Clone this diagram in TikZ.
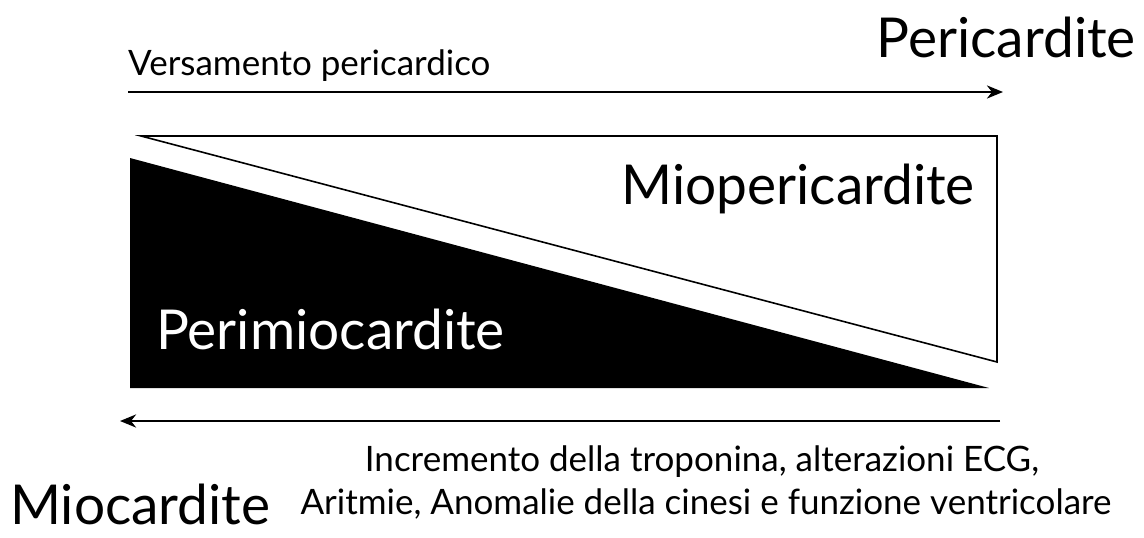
\documentclass[tikz,border=0pt]{standalone}
\usepackage{fontspec}
\setmainfont{Lato}
\usetikzlibrary{arrows.meta}

\tikzset{
  bigtext/.style={font=\fontsize{55}{58}\selectfont, inner sep=0pt},
  smalltext/.style={font=\fontsize{35}{38}\selectfont, inner sep=0pt},
  arrowline/.style={line width=2.6pt, -{Stealth[length=16pt,width=13pt,inset=5pt]}}
}

\begin{document}
\begin{tikzpicture}[x=1pt,y=-1pt]
\useasboundingbox (0,0) rectangle (1144,538);

% top arrow
\node[smalltext, anchor=base west] (versamento) at (128,75) {Versamento pericardico};
\node[bigtext, anchor=base east] (peri) at (1136,57) {Pericardite};
\coordinate (vstart) at (128,92);
\coordinate (vend) at (1003,92);
\draw[arrowline] (vstart) -- (vend);

% the two triangles
\draw[line width=1.6pt] (141,136) -- (997,136) -- (997,362) -- cycle;
\fill[black] (130,158) -- (989,388) -- (130,388) -- cycle;

\node[bigtext, anchor=base east] (mioperi) at (975,204) {Miopericardite};
\node[bigtext, anchor=base west, white] (perimio) at (156,349) {Perimiocardite};

% bottom arrow
\coordinate (tstart) at (1000,421);
\coordinate (tend) at (120,421);
\draw[arrowline] (tstart) -- (tend);

\node[smalltext, anchor=base] (troponina) at (702,471) {Incremento della troponina, alterazioni ECG,};
\node[smalltext, anchor=base] (aritmie) at (706,514) {Aritmie, Anomalie della cinesi e funzione ventricolare};
\node[bigtext, anchor=base west] (mio) at (10,524) {Miocardite};

\end{tikzpicture}
\end{document}
